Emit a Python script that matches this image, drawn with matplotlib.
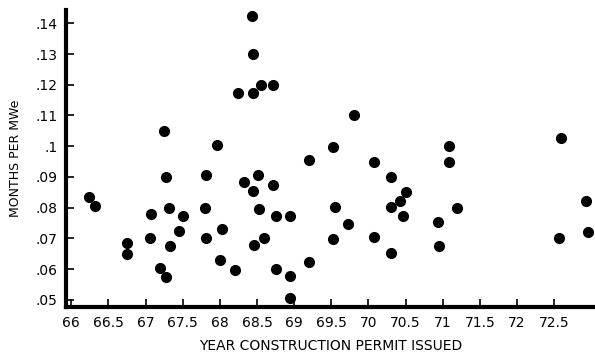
import matplotlib.pyplot as plt

# year construction permit issued vs months per MWe
years = [66.24, 66.32, 66.75, 66.75, 67.07, 67.06, 67.19, 67.27, 67.31, 67.33,
         67.45, 67.51, 67.80, 67.81, 68.00, 68.03, 68.20, 68.33, 68.45, 68.46,
         68.53, 68.59, 68.52, 68.71, 68.76, 68.75, 68.95, 68.95, 68.95,
         68.43, 68.45, 68.25, 68.44, 68.56, 68.71, 67.25, 67.96, 67.27, 67.81,
         69.81, 69.52, 69.20, 70.07, 70.31, 71.09, 71.09, 72.59,
         69.55, 69.72, 69.53, 69.20, 70.07, 70.31, 70.43, 70.51, 70.46, 70.31,
         70.94, 70.95, 71.19, 72.57, 72.93, 72.95]
months = [0.0833, 0.0804, 0.0685, 0.0650, 0.0779, 0.0700, 0.0603, 0.0574, 0.0800, 0.0674,
          0.0725, 0.0774, 0.0800, 0.0700, 0.0630, 0.0730, 0.0598, 0.0883, 0.0853, 0.0677,
          0.0796, 0.0700, 0.0905, 0.0875, 0.0774, 0.0600, 0.0774, 0.0578, 0.0505,
          0.1423, 0.1300, 0.1173, 0.1173, 0.1200, 0.1200, 0.1050, 0.1005, 0.0900, 0.0905,
          0.1100, 0.0997, 0.0954, 0.0949, 0.0900, 0.1002, 0.0949, 0.1027,
          0.0802, 0.0747, 0.0699, 0.0622, 0.0703, 0.0802, 0.0823, 0.0850, 0.0774, 0.0652,
          0.0753, 0.0676, 0.0799, 0.0700, 0.0823, 0.0720]

xticks = [66, 66.5, 67, 67.5, 68, 68.5, 69, 69.5, 70, 70.5, 71, 71.5, 72, 72.5]
xticklabels = ["66", "66.5", "67", "67.5", "68", "68.5", "69", "69.5", "70",
               "70.5", "71", "71.5", "72", "72.5"]
yticks = [0.05, 0.06, 0.07, 0.08, 0.09, 0.10, 0.11, 0.12, 0.13, 0.14]
yticklabels = [".05", ".06", ".07", ".08", ".09", ".1", ".11", ".12", ".13", ".14"]

plt.rcParams['font.family'] = ['Liberation Sans Narrow', 'DejaVu Sans']

fig = plt.figure(figsize=(5.95, 3.6), dpi=100)
ax = fig.add_axes([0.111, 0.146, 0.889, 0.826])

ax.plot(years, months, 'o', color='black', markersize=7)

ax.set_xlim(65.93, 73.05)
ax.set_ylim(0.0475, 0.1443)
ax.set_xticks(xticks)
ax.set_xticklabels(xticklabels)
ax.set_yticks(yticks)
ax.set_yticklabels(yticklabels)

for s in ['top', 'right']:
    ax.spines[s].set_visible(False)
for s in ['left', 'bottom']:
    ax.spines[s].set_linewidth(3)
ax.tick_params(direction='in', length=6, width=1.2, labelsize=10, pad=6)

ax.set_xlabel("YEAR CONSTRUCTION PERMIT ISSUED", fontsize=10, labelpad=7)
ax.set_ylabel("MONTHS PER MWe", fontsize=9, labelpad=10)

fig.savefig("out.png", dpi=100)
